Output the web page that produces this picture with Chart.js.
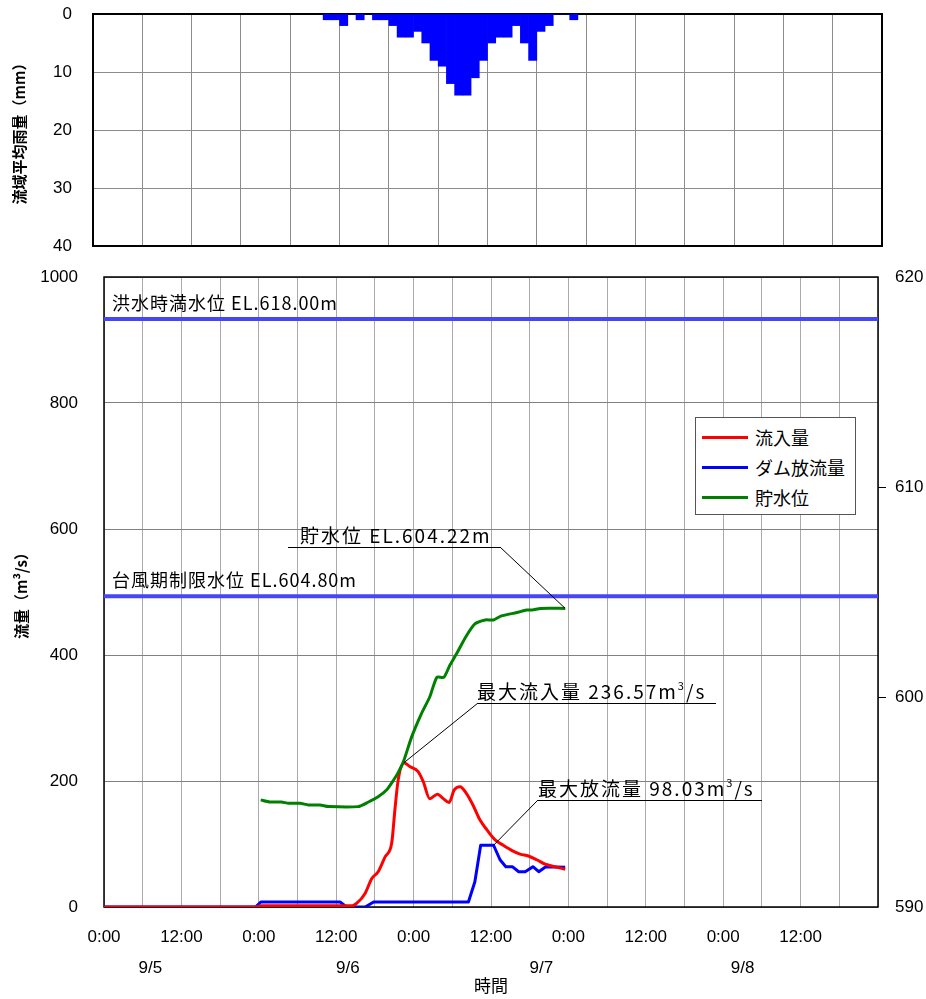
<!DOCTYPE html>
<html lang="ja">
<head>
<meta charset="UTF-8">
<title>流域平均雨量・流量</title>
<script src="https://cdn.jsdelivr.net/npm/chart.js"></script>
<style>
    body {
        margin: 0;
        width: 926px;
        height: 999px;
        overflow: hidden;
        position: relative;
        background: #fff;
        font-family: 'Noto Sans CJK JP', sans-serif;
    }
    #rainChart { position: absolute; left: 0; top: 0; }
    #flowChart { position: absolute; left: 0; top: 256px; }
    #legend {
        position: absolute;
        left: 695px;
        top: 417px;
        width: 161px;
        height: 98px;
        box-sizing: border-box;
        border: 1px solid #555;
        background: #fff;
        padding-top: 4px;
    }
    .legend-item { display: flex; align-items: center; height: 30px; font-size: 18px; color: #000; }
    .legend-line { width: 46px; height: 3px; margin: 0 7px 0 6px; }
</style>
</head>
<body>
<canvas id="rainChart" width="926" height="256"></canvas>
<canvas id="flowChart" width="926" height="743"></canvas>
<div id="legend"></div>

<script>
// hours counted from 9/5 0:00
const rainStartHour = 28;
const rainfall = [1, 1, 2, 0, 1, 0, 1, 1, 2, 4, 4, 3, 5, 8, 9, 12, 14, 14, 11, 8, 5, 4, 4, 2, 5, 8, 3, 2, 0, 0, 1];

const inflowHours = [0, 23.5, 24.3, 38.5, 39.2, 40.5, 41.5, 42.5, 43.6, 44.6, 45.1, 45.6, 46.5, 47.4, 48.7, 49.5, 50.5, 51.7, 52.6, 53.5, 54.3, 55.2, 56.2, 57.2, 58.3, 59.4, 60.6, 61.9, 63.2, 64.5, 65.8, 67.1, 68.4, 69.9, 71.5];
const inflow = [0, 0, 2, 2, 6, 22, 45, 56, 80, 101, 154, 201, 229, 223, 215, 199, 172, 179, 172, 166, 186, 191, 180, 162, 138, 122, 107, 98, 90, 84, 81, 75, 68, 64, 60];

const outflowHours = [0, 23.5, 24.3, 36.6, 37.6, 40.5, 41.8, 56.5, 57.5, 58.4, 60.4, 61.4, 62.3, 63.3, 64.3, 65.3, 66.5, 67.4, 68.5, 71.5];
const outflow = [0, 0, 8, 8, 0, 0, 8, 8, 40, 98, 98, 75, 64, 64, 56, 56, 64, 56, 64, 63];

const storageHours = [24.3, 25.7, 27.5, 28.6, 30.4, 31.7, 33.5, 34.8, 39.4, 41, 42.5, 43.8, 44.8, 45.6, 46.4, 47.7, 49.2, 50.5, 51.6, 52.7, 53.6, 54.7, 56.1, 57.5, 59.1, 60.4, 61.6, 64, 65.5, 66.4, 67.7, 71.5];
const storageLevel = [595.1, 595.0, 595.0, 594.94, 594.94, 594.86, 594.86, 594.78, 594.78, 595.0, 595.25, 595.57, 596.0, 596.4, 596.9, 598.1, 599.2, 600.0, 600.94, 600.94, 601.5, 602.08, 602.87, 603.48, 603.67, 603.67, 603.86, 604.02, 604.14, 604.14, 604.22, 604.22];

const levelLines = [
    { label: '洪水時満水位 EL.618.00m', value: 618.00 },
    { label: '台風期制限水位 EL.604.80m', value: 604.80 }
];

const dateLabels = ['9/5', '9/6', '9/7', '9/8'];
const dateLabelHours = [7.2, 37.8, 67.8, 99];

const toPoints = (xs, ys) => xs.map((x, i) => ({ x: x, y: ys[i] }));
const lastIndexOfMax = arr => arr.lastIndexOf(Math.max(...arr));

Chart.defaults.font.family = '"Liberation Sans", Arial, sans-serif';
Chart.defaults.font.size = 17;
Chart.defaults.font.lineHeight = 1.1;
Chart.defaults.color = '#000';

const jpFont = '"Noto Sans CJK JP", sans-serif';

// box around the plot area
const framePlugin = {
    id: 'frame',
    beforeDatasetsDraw(chart, args, opts) {
        const { ctx, chartArea: a } = chart;
        ctx.save();
        ctx.strokeStyle = '#000';
        ctx.lineWidth = opts.width || 1;
        ctx.strokeRect(a.left, a.top, a.right - a.left, a.bottom - a.top);
        ctx.restore();
    }
};

// ---- rainfall ----
new Chart(document.getElementById('rainChart'), {
    type: 'bar',
    data: {
        datasets: [{
            label: '流域平均雨量',
            data: rainfall.map((v, i) => ({ x: rainStartHour + i + 0.5, y: v })),
            backgroundColor: '#0000ff',
            borderWidth: 0,
            barPercentage: 1,
            categoryPercentage: 1
        }]
    },
    options: {
        responsive: false,
        animation: false,
        layout: { padding: { top: 14, right: 44, bottom: 10, left: 0 } },
        plugins: { legend: { display: false }, tooltip: { enabled: false }, frame: { width: 2 } },
        scales: {
            x: {
                type: 'linear', min: 0, max: 96, offset: false,
                ticks: { display: false, stepSize: 6 },
                grid: { color: '#8c8c8c', drawTicks: false, offset: false },
                border: { display: false },
                afterFit(s) { s.height = 0; }
            },
            y: {
                reverse: true, min: 0, max: 40,
                ticks: { stepSize: 10, padding: 0, callback: v => String(v) },
                grid: { color: '#8c8c8c', drawTicks: true, tickLength: 21, tickColor: 'rgba(0,0,0,0)' },
                border: { display: false },
                title: { display: true, text: '流域平均雨量（mm）', font: { family: jpFont, size: 15, weight: 'bold' }, padding: { top: 11, bottom: 0 } },
                afterFit(s) { s.width = 93; }
            }
        }
    },
    plugins: [framePlugin]
});

// ---- flow / storage level ----
function drawParts(ctx, parts, x, y, size) {
    parts.forEach((p, i) => {
        if (i % 2 === 1) {
            ctx.font = Math.round(size * 0.6) + 'px ' + jpFont;
            ctx.fillText(p, x, y - size * 0.5);
        } else {
            ctx.font = size + 'px ' + jpFont;
            ctx.fillText(p, x, y);
        }
        x += ctx.measureText(p).width;
    });
}

const callouts = [
    { parts: ['貯水位 EL.604.22m'], series: 'storage', index: storageLevel.length - 1, axis: 'y2',
      textX: 300, lineY: 291, lineLeft: 288, lineRight: 500, elbow: 'right' },
    { parts: ['最大流入量 236.57m', '3', '/s'], series: 'inflow', index: lastIndexOfMax(inflow), axis: 'y',
      textX: 477, lineY: 447, lineLeft: 478, lineRight: 716, elbow: 'left' },
    { parts: ['最大放流量 98.03m', '3', '/s'], series: 'outflow', index: lastIndexOfMax(outflow), axis: 'y',
      textX: 538, lineY: 544, lineLeft: 538, lineRight: 762, elbow: 'left' }
];
const seriesData = {
    inflow: [inflowHours, inflow],
    outflow: [outflowHours, outflow],
    storage: [storageHours, storageLevel]
};

const calloutPlugin = {
    id: 'callouts',
    afterDatasetsDraw(chart) {
        const { ctx, scales, chartArea } = chart;
        ctx.save();
        ctx.fillStyle = '#000';
        ctx.textBaseline = 'alphabetic';
        ctx.font = '18px ' + jpFont;
        ctx.letterSpacing = '1px';
        levelLines.forEach(l => {
            ctx.fillText(l.label, chartArea.left + 8, scales.y2.getPixelForValue(l.value) - 9);
        });

        ctx.strokeStyle = '#000';
        ctx.lineWidth = 1;
        callouts.forEach(c => {
            const [xs, ys] = seriesData[c.series];
            const ax = scales.x.getPixelForValue(xs[c.index]);
            const ay = scales[c.axis].getPixelForValue(ys[c.index]);
            const ex = c.elbow === 'left' ? c.lineLeft : c.lineRight;
            ctx.beginPath();
            ctx.moveTo(ax, ay);
            ctx.lineTo(ex, c.lineY);
            ctx.moveTo(c.lineLeft, c.lineY + 0.5);
            ctx.lineTo(c.lineRight, c.lineY + 0.5);
            ctx.stroke();
            ctx.letterSpacing = '2px';
            drawParts(ctx, c.parts, c.textX, c.lineY - 4, 19);
        });
        ctx.letterSpacing = '0px';
        ctx.restore();
    }
};

const lineBase = { pointRadius: 0, fill: false, borderJoinStyle: 'round' };

const flowChart = new Chart(document.getElementById('flowChart'), {
    type: 'line',
    data: {
        datasets: [
            ...levelLines.map(l => ({
                ...lineBase, label: l.label, yAxisID: 'y2',
                data: [{ x: 0, y: l.value }, { x: 120, y: l.value }],
                borderColor: '#4646f8', borderWidth: 4
            })),
            { ...lineBase, label: '貯水位', yAxisID: 'y2', inLegend: 3,
              data: toPoints(storageHours, storageLevel), borderColor: '#008000', borderWidth: 3, tension: 0.2 },
            { ...lineBase, label: '流入量', yAxisID: 'y', inLegend: 1,
              data: toPoints(inflowHours, inflow), borderColor: '#ff0000', borderWidth: 3, cubicInterpolationMode: 'monotone' },
            { ...lineBase, label: 'ダム放流量', yAxisID: 'y', inLegend: 2,
              data: toPoints(outflowHours, outflow), borderColor: '#0000ff', borderWidth: 3 }
        ]
    },
    options: {
        responsive: false,
        animation: false,
        layout: { padding: { top: 21, right: 0, bottom: 0, left: 0 } },
        plugins: { legend: { display: false }, tooltip: { enabled: false }, frame: { width: 1.5 } },
        scales: {
            x: {
                type: 'linear', min: 0, max: 120, weight: 0,
                ticks: {
                    stepSize: 6, autoSkip: false, maxRotation: 0, padding: 21,
                    callback: v => (v % 12 !== 0 || v >= 120) ? '' : (v % 24 === 0 ? '0:00' : '12:00')
                },
                grid: { color: '#aaaaaa', drawTicks: false },
                border: { display: false },
                afterFit(s) { s.height = 40; }
            },
            xDate: {
                type: 'linear', min: 0, max: 120, position: 'bottom', weight: 1,
                afterBuildTicks(s) { s.ticks = dateLabelHours.map(v => ({ value: v })); },
                ticks: { autoSkip: false, maxRotation: 0, padding: 12, callback: (v, i) => dateLabels[i] },
                grid: { display: false, drawTicks: false },
                border: { display: false },
                title: { display: true, text: '時間', font: { family: jpFont, size: 17 }, padding: { top: 0, bottom: 4 } },
                afterFit(s) { s.height = 52; }
            },
            y: {
                min: 0, max: 1000,
                ticks: { stepSize: 200, padding: 0, callback: v => String(v) },
                grid: { color: '#808080', drawTicks: true, tickLength: 26, tickColor: 'rgba(0,0,0,0)' },
                border: { display: false },
                title: { display: true, text: '流量（m³/s）', font: { family: jpFont, size: 15, weight: 'bold' }, padding: { top: 13, bottom: 0 } },
                afterFit(s) { s.width = 104; }
            },
            y2: {
                position: 'right', min: 590, max: 620,
                ticks: { stepSize: 10, padding: 9, callback: v => String(v) },
                grid: {
                    drawOnChartArea: false, drawTicks: true, tickLength: 8,
                    tickColor: c => (c.tick && (c.tick.value === 590 || c.tick.value === 620)) ? 'rgba(0,0,0,0)' : '#000'
                },
                border: { display: false },
                afterFit(s) { s.width = 48; }
            }
        }
    },
    plugins: [framePlugin, calloutPlugin]
});

// legend box
const legendEl = document.getElementById('legend');
flowChart.data.datasets
    .filter(d => d.inLegend)
    .sort((a, b) => a.inLegend - b.inLegend)
    .forEach(d => {
        const item = document.createElement('div');
        item.className = 'legend-item';
        const line = document.createElement('span');
        line.className = 'legend-line';
        line.style.background = d.borderColor;
        const text = document.createElement('span');
        text.textContent = d.label;
        item.appendChild(line);
        item.appendChild(text);
        legendEl.appendChild(item);
    });
</script>
</body>
</html>
